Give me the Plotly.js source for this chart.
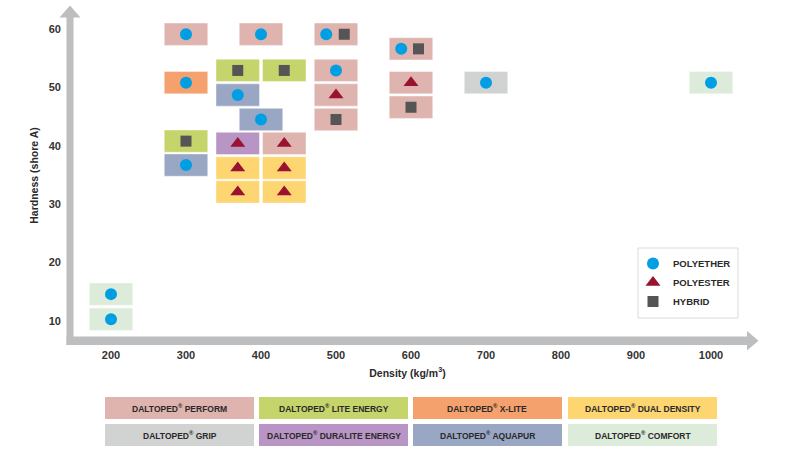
<!DOCTYPE html>
<html><head><meta charset="utf-8">
<script src="https://cdn.plot.ly/plotly-3.0.1.min.js"></script>
<style>html,body{margin:0;padding:0;background:#fff;}#chart{width:800px;height:462px;}</style>
</head><body><div id="chart"></div>
<script>
// ---- Data ----
const rectDensity  = [300,400,500,600,369,431,500,300,600,700,1000,369,500,600,400,500,300,369,431,300,369,431,369,431,200,200];
const rectHardness = [59.1,59.1,59.1,56.6,52.9,52.9,52.9,50.8,50.8,50.8,50.8,48.7,48.7,46.6,44.5,44.5,40.8,40.4,40.4,36.7,36.2,36.2,32.1,32.1,14.6,10.3];
const rectFamily   = ['PERFORM','PERFORM','PERFORM','PERFORM','LITE ENERGY','LITE ENERGY','PERFORM','X-LITE','PERFORM','GRIP','COMFORT','AQUAPUR','PERFORM','PERFORM','AQUAPUR','PERFORM','LITE ENERGY','DURALITE ENERGY','PERFORM','AQUAPUR','DUAL DENSITY','DUAL DENSITY','DUAL DENSITY','DUAL DENSITY','COMFORT','COMFORT'];

const polyetherDensity  = [300,400,487,587,500,300,369,700,1000,400,300,200,200];
const polyetherHardness = [59.1,59.1,59.1,56.6,52.9,50.8,48.7,50.8,50.8,44.5,36.7,14.6,10.3];
const polyesterDensity  = [500,600,369,431,369,431,369,431];
const polyesterHardness = [48.7,50.8,40.4,40.4,36.2,36.2,32.1,32.1];
const hybridDensity     = [511,610,369,431,600,500,300];
const hybridHardness    = [59.1,56.6,52.9,52.9,46.6,44.5,40.8];

const familyNames = ['PERFORM','LITE ENERGY','X-LITE','DUAL DENSITY','GRIP','DURALITE ENERGY','AQUAPUR','COMFORT'];
const seriesNames = ['POLYETHER','POLYESTER','HYBRID'];
const xTickVals = [200,300,400,500,600,700,800,900,1000];
const yTickVals = [10,20,30,40,50,60];

// ---- Styles ----
const familyColors = {
  'PERFORM':'#DFB3AE','LITE ENERGY':'#C6D56B','X-LITE':'#F4A16D','DUAL DENSITY':'#FDD571',
  'GRIP':'#D1D2D2','DURALITE ENERGY':'#B995C5','AQUAPUR':'#99A7C5','COMFORT':'#DCEBDA'
};
const RW = 58, RH = 3.82;          // rect size in data units
const L = 70, R = 55, T = 10, B = 121, W = 800 - L - R, H = 462 - T - B;
const px = x => (x - L) / W, py = y => (462 - B - y) / H;
const FONT = 'Liberation Sans, Arial, Helvetica, sans-serif';
const axisGrey = '#BDBEC0';

const shapes = [];
rectDensity.forEach((d, i) => {
  shapes.push({type:'rect', xref:'x', yref:'y', layer:'below',
    x0: d - RW/2, x1: d + RW/2, y0: rectHardness[i] - RH/2, y1: rectHardness[i] + RH/2,
    fillcolor: familyColors[rectFamily[i]], line:{width:0.6, color:'rgba(255,255,255,0.7)'}});
});
// axis arrows
shapes.push({type:'rect', xref:'paper', yref:'paper', x0:px(66.5), x1:px(73.5), y0:py(345), y1:py(17), fillcolor:axisGrey, line:{width:0}});
shapes.push({type:'path', xref:'paper', yref:'paper', path:`M ${px(59.5)},${py(17.5)} L ${px(80.5)},${py(17.5)} L ${px(70)},${py(5.5)} Z`, fillcolor:axisGrey, line:{width:0}});
shapes.push({type:'rect', xref:'paper', yref:'paper', x0:px(66.5), x1:px(748), y0:py(345), y1:py(336.5), fillcolor:axisGrey, line:{width:0}});
shapes.push({type:'path', xref:'paper', yref:'paper', path:`M ${px(747)},${py(331)} L ${px(747)},${py(350.5)} L ${px(758.5)},${py(340.75)} Z`, fillcolor:axisGrey, line:{width:0}});
// marker legend frame
shapes.push({type:'rect', xref:'paper', yref:'paper', x0:px(638), x1:px(738), y0:py(318), y1:py(248), fillcolor:'#fff', line:{width:1, color:'#DADADA'}});

// family legend boxes
const annotations = [];
const boxX = [105,259,413,568], boxW = 149, boxY = [397,424], boxH = 22;
familyNames.forEach((n, i) => {
  const c = i % 4, r = Math.floor(i / 4);
  const x0 = boxX[c], y0 = boxY[r];
  shapes.push({type:'rect', xref:'paper', yref:'paper', x0:px(x0), x1:px(x0+boxW), y0:py(y0+boxH), y1:py(y0),
    fillcolor: familyColors[n], line:{width:0}});
  annotations.push({xref:'paper', yref:'paper', x:px(x0+boxW/2), y:py(y0+boxH/2), xanchor:'center', yanchor:'middle',
    showarrow:false, text:'DALTOPED<sup>®</sup> ' + n, font:{family:FONT, size:8.5, color:'#2a2a2a', weight:'bold'}});
});

const traces = [
  {type:'scatter', mode:'markers', name:seriesNames[0], x:polyetherDensity, y:polyetherHardness,
   marker:{symbol:'circle', size:12, color:'#009FE3', line:{width:0}}},
  {type:'scatter', mode:'markers', name:seriesNames[1], x:polyesterDensity, y:polyesterHardness,
   marker:{symbol:'triangle-up', size:13, color:'#9A1230', line:{width:0}}},
  {type:'scatter', mode:'markers', name:seriesNames[2], x:hybridDensity, y:hybridHardness,
   marker:{symbol:'square', size:11, color:'#555555', line:{width:0}}}
];

const tickFont = {family:FONT, size:11, color:'#333', weight:'bold'};
const layout = {
  width:800, height:462, margin:{l:L, r:R, t:T, b:B, pad:0},
  paper_bgcolor:'#fff', plot_bgcolor:'rgba(0,0,0,0)',
  showlegend:true,
  legend:{x:px(633), y:py(249), xanchor:'left', yanchor:'top', bgcolor:'rgba(0,0,0,0)', borderwidth:0,
    tracegroupgap:0, font:{family:FONT, size:9.5, color:'#2a2a2a', weight:'bold'}},
  xaxis:{range:[145.33, 1045.33], showgrid:false, zeroline:false, showline:false, ticks:'',
    tickvals:xTickVals, tickfont:tickFont, ticklabelstandoff:6, fixedrange:true,
    title:{text:'Density (kg/m<sup>3</sup>)', font:{family:FONT, size:10.5, color:'#2a2a2a', weight:'bold'}, standoff:9}},
  yaxis:{range:[6.575, 63.25], showgrid:false, zeroline:false, showline:false, ticks:'',
    tickvals:yTickVals, tickfont:tickFont, ticklabelstandoff:8, fixedrange:true,
    title:{text:'Hardness (shore A)', font:{family:FONT, size:10.5, color:'#2a2a2a', weight:'bold'}, standoff:8}},
  shapes:shapes, annotations:annotations
};
Plotly.newPlot('chart', traces, layout, {displayModeBar:false, staticPlot:true});
</script></body></html>
